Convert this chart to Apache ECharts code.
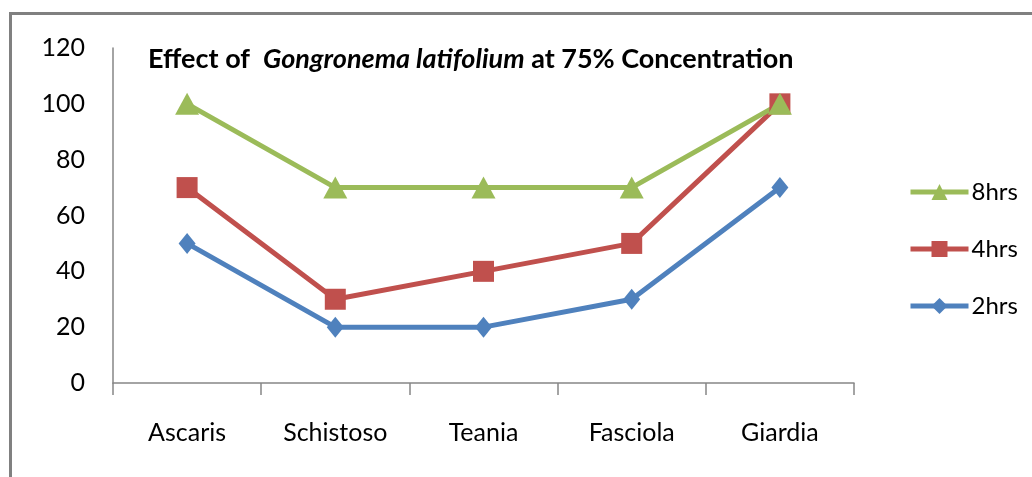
<!DOCTYPE html>
<html>
<head>
<meta charset="utf-8">
<script src="https://cdn.jsdelivr.net/npm/echarts@6/dist/echarts.min.js"></script>
<style>
  body { margin: 0; background: #fff; }
  #chart { position: absolute; left: 0; top: 0; width: 1032px; height: 477px; }
  #frame { position: absolute; left: 9px; top: 12px; right: 0; bottom: 0;
           border-top: 3px solid #808080; border-left: 3px solid #808080; pointer-events: none; }
</style>
</head>
<body>
<div id="chart"></div>
<div id="frame"></div>
<script>
// 类别与数据
const categories = ['Ascaris', 'Schistoso', 'Teania', 'Fasciola', 'Giardia'];
const hrs8 = [100, 70, 70, 70, 100];
const hrs4 = [70, 30, 40, 50, 100];
const hrs2 = [50, 20, 20, 30, 70];
const yTicks = [0, 20, 40, 60, 80, 100, 120];

const FONT = 'Lato';
const COLOR = ['#9bbb59', '#c0504d', '#4f81bd'];

function lineSeries(name, data, symbol, size, color) {
  return {
    name: name,
    type: 'line',
    data: data,
    symbol: symbol,
    symbolSize: size,
    lineStyle: { width: 5, color: color },
    itemStyle: { color: color },
    emphasis: { disabled: true }
  };
}

let myChart = echarts.init(document.getElementById('chart'));
let option = {
  animation: false,
  title: {
    text: 'Effect of  {i|Gongronema latifolium} at 75% Concentration',
    left: 143,
    top: 41,
    textStyle: {
      fontFamily: FONT,
      fontSize: 27,
      fontWeight: 'bold',
      color: '#000',
      rich: {
        i: { fontFamily: FONT, fontSize: 27, fontWeight: 'bold', fontStyle: 'italic', color: '#000' }
      }
    }
  },
  legend: {
    orient: 'vertical',
    left: 903,
    top: 173,
    itemGap: 29,
    itemWidth: 58,
    itemHeight: 20,
    lineStyle: { width: 5 },
    data: ['8hrs', '4hrs', '2hrs'],
    textStyle: { fontFamily: FONT, fontSize: 24, lineHeight: 28, color: '#000', padding: [0, 0, 0, -2] }
  },
  grid: { left: 113, right: 178, top: 48, bottom: 94 },
  xAxis: {
    type: 'category',
    data: categories,
    boundaryGap: true,
    axisLine: { lineStyle: { color: '#868686', width: 1.5 } },
    axisTick: { show: true, length: 12, alignWithLabel: false, lineStyle: { color: '#868686', width: 1.5 } },
    axisLabel: { fontFamily: FONT, fontSize: 25, color: '#000', margin: 37 },
    splitLine: { show: false }
  },
  yAxis: {
    type: 'value',
    min: yTicks[0],
    max: yTicks[yTicks.length - 1],
    interval: 20,
    axisLine: { show: true, lineStyle: { color: '#868686', width: 1.5 } },
    axisTick: { show: false },
    axisLabel: { fontFamily: FONT, fontSize: 25, color: '#000', margin: 28 },
    splitLine: { show: false }
  },
  // 绘制顺序: 2hrs 在最下, 8hrs 在最上
  series: [
    lineSeries('2hrs', hrs2, 'diamond', [17, 21], COLOR[2]),
    lineSeries('4hrs', hrs4, 'rect', 21, COLOR[1]),
    lineSeries('8hrs', hrs8, 'triangle', [24, 22], COLOR[0])
  ]
};
myChart.setOption(option);
</script>
</body>
</html>
